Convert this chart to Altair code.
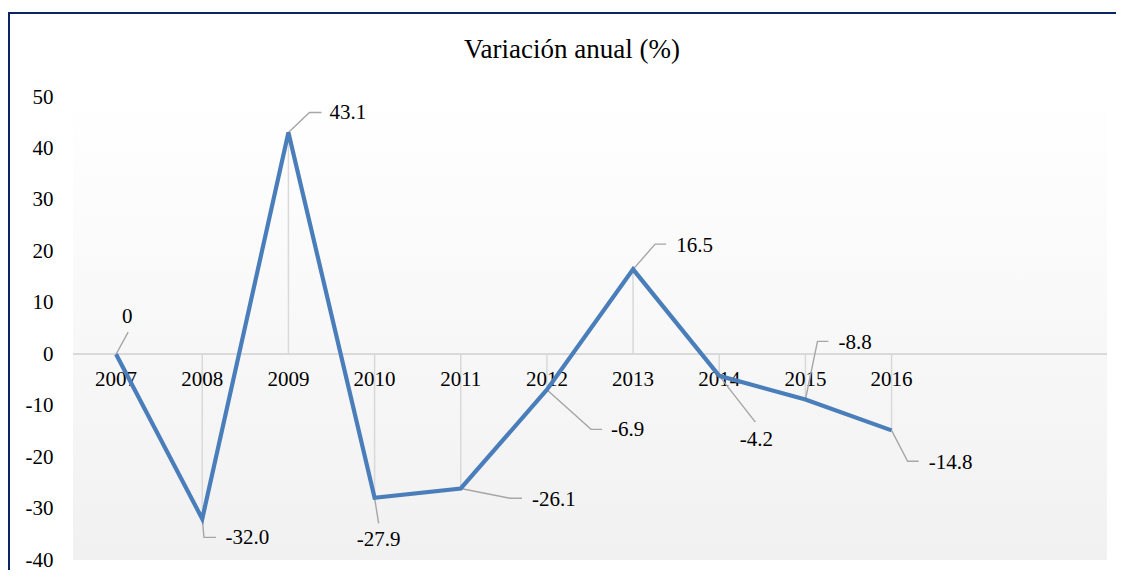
import altair as alt
import pandas as pd

# ---- data ----
years = [2007, 2008, 2009, 2010, 2011, 2012, 2013, 2014, 2015, 2016]
values = [0.0, -32.0, 43.1, -27.9, -26.1, -6.9, 16.5, -4.2, -8.8, -14.8]
value_labels = ["0", "-32.0", "43.1", "-27.9", "-26.1", "-6.9", "16.5", "-4.2", "-8.8", "-14.8"]
y_ticks = [-40, -30, -20, -10, 0, 10, 20, 30, 40, 50]
title_text = "Variación anual (%)"

# ---- label layout (offsets from each point, in axis units) ----
elbow_dx = [0.14, 0.02, 0.244, 0.047, 0.57, 0.512, 0.256, 0.419, 0.14, 0.186]
end_dx = [0.14, 0.16, 0.384, 0.047, 0.71, 0.64, 0.384, 0.419, 0.267, 0.314]
leader_dv = [4.3, -3.6, 3.9, -5.0, -1.9, -7.7, 4.9, -9.0, 11.3, -6.0]
label_dx = [0.13, 0.27, 0.477, 0.047, 0.826, 0.744, 0.5, 0.43, 0.384, 0.43]
label_dv = [7.2, -3.8, 3.8, -8.2, -2.3, -7.9, 4.5, -12.5, 10.9, -6.4]
label_align = ["center", "left", "left", "center", "left", "left", "left", "center", "left", "left"]

FONT = "'Liberation Serif', 'Times New Roman', 'DejaVu Serif', serif"
W, H = 1034, 463

df = pd.DataFrame({
    "idx": list(range(len(years))),
    "year": [str(y) for y in years],
    "value": values,
    "zero": [0.0] * len(years),
    "label": value_labels,
    "lx": [i + d for i, d in enumerate(label_dx)],
    "ly": [v + d for v, d in zip(values, label_dv)],
    "align": label_align,
})

rows = []
for i, v in enumerate(values):
    rows.append({"id": i, "step": 0, "x": i, "y": v})
    rows.append({"id": i, "step": 1, "x": i + elbow_dx[i], "y": v + leader_dv[i]})
    rows.append({"id": i, "step": 2, "x": i + end_dx[i], "y": v + leader_dv[i]})
leaders = pd.DataFrame(rows)

xscale = alt.Scale(domain=[-0.5, 11.5], nice=False, zero=False)
yscale = alt.Scale(domain=[-40, 50], nice=False, zero=False)
yaxis = alt.Axis(values=y_ticks, title=None, domain=False, ticks=False, grid=False,
                 labelFont=FONT, labelFontSize=21, labelColor="#000000", labelPadding=20,
                 labelExpr="'' + datum.value")


def Y(field):
    return alt.Y(field, scale=yscale, axis=yaxis, title=None)


def X(field):
    return alt.X(field, scale=xscale, axis=None, title=None)


background = alt.Chart(df).mark_rect(
    color=alt.Gradient(
        gradient="linear",
        stops=[alt.GradientStop(color="#ffffff", offset=0),
               alt.GradientStop(color="#f1f1f1", offset=1)],
        x1=0, x2=0, y1=0, y2=1,
    )
).encode(x=alt.value(0), x2=alt.value(W), y=alt.value(0), y2=alt.value(H))

zero_line = alt.Chart(df).mark_rule(color="#d9d9d9", strokeWidth=1.5).encode(
    x=alt.value(0), x2=alt.value(W), y=Y("zero:Q"),
)

drops = alt.Chart(df).mark_rule(color="#d9d9d9", strokeWidth=1.5).encode(
    x=X("idx:Q"), y=Y("value:Q"), y2="zero:Q",
)

year_text = alt.Chart(df).mark_text(
    font=FONT, fontSize=21, color="#000000", baseline="middle", dy=26
).encode(x=X("idx:Q"), y=Y("zero:Q"), text="year:N")

leader_lines = alt.Chart(leaders).mark_line(color="#a6a6a6", strokeWidth=1.4).encode(
    x=X("x:Q"), y=Y("y:Q"), detail="id:N", order="step:Q",
)

line = alt.Chart(df).mark_line(color="#4a7ebb", strokeWidth=4.2).encode(
    x=X("idx:Q"), y=Y("value:Q"),
)

labels_left = alt.Chart(df).mark_text(
    font=FONT, fontSize=21, color="#000000", align="left", baseline="middle"
).encode(x=X("lx:Q"), y=Y("ly:Q"), text="label:N").transform_filter("datum.align == 'left'")

labels_center = alt.Chart(df).mark_text(
    font=FONT, fontSize=21, color="#000000", align="center", baseline="middle"
).encode(x=X("lx:Q"), y=Y("ly:Q"), text="label:N").transform_filter("datum.align == 'center'")

title = alt.Chart(pd.DataFrame({"t": [title_text]})).mark_text(
    font=FONT, fontSize=27, color="#000000", align="center", baseline="alphabetic"
).encode(x=alt.value(499), y=alt.value(-39), text="t:N")

frame = pd.DataFrame({"t": [0]})
border_top = alt.Chart(frame).mark_rule(color="#0b2463", strokeWidth=2).encode(
    x=alt.value(-65), x2=alt.value(W + 80), y=alt.value(-84)
)
border_left = alt.Chart(frame).mark_rule(color="#0b2463", strokeWidth=2).encode(
    x=alt.value(-64), y=alt.value(-85), y2=alt.value(H + 80)
)

chart = alt.layer(
    background, zero_line, drops, year_text, leader_lines, line,
    labels_left, labels_center, title, border_top, border_left
).properties(
    width=W, height=H,
    padding={"left": 65, "top": 89, "right": 9, "bottom": 10},
    autosize=alt.AutoSizeParams(type="none"),
).configure_view(stroke=None)

chart.save("out.html", embed_options={"renderer": "svg", "actions": False})
